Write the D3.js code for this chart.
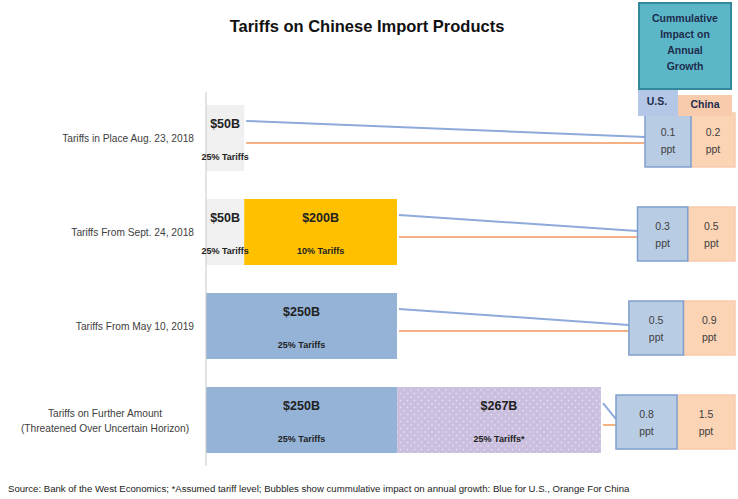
<!DOCTYPE html>
<html>
<head>
<meta charset="utf-8">
<script src="https://cdn.jsdelivr.net/npm/d3@7"></script>
<style>
  body { margin: 0; background: #fff; }
  svg { font-family: "Liberation Sans", Arial, sans-serif; }
</style>
</head>
<body>
<svg id="chart" width="738" height="499"></svg>
<script>
// chart data
var categories = ["Tariffs in Place Aug. 23, 2018", "Tariffs From Sept. 24, 2018",
    "Tariffs From May 10, 2019", "Tariffs on Further Amount|(Threatened Over Uncertain Horizon)"];
var segAmounts = [[50], [50, 200], [250], [250, 267]];
var segRates = [["25% Tariffs"], ["25% Tariffs", "10% Tariffs"], ["25% Tariffs"], ["25% Tariffs", "25% Tariffs*"]];
var segKinds = [["past"], ["past", "new"], ["full"], ["full", "threat"]];
var usImpact = [0.1, 0.3, 0.5, 0.8];
var chinaImpact = [0.2, 0.5, 0.9, 1.5];

var fills = { past: "#f0f0f0", "new": "#ffc000", full: "#95b3d7", threat: "url(#dots)" };
var blueLine = "#8eaadb", orangeLine = "#f4b183";

var svg = d3.select("#chart");

var defs = svg.append("defs");
var pat = defs.append("pattern").attr("id", "dots").attr("patternUnits", "userSpaceOnUse")
    .attr("width", 7).attr("height", 7);
pat.append("rect").attr("width", 7).attr("height", 7).attr("fill", "#cbbfdf");
pat.append("circle").attr("cx", 1.5).attr("cy", 1.5).attr("r", 0.8).attr("fill", "#fff").style("opacity", 0.6);
pat.append("circle").attr("cx", 5).attr("cy", 5).attr("r", 0.8).attr("fill", "#fff").style("opacity", 0.6);

var x = d3.scaleLinear().domain([0, 250]).range([206, 397]);
var y = d3.scaleBand().domain(d3.range(categories.length)).range([92, 466])
    .paddingInner(0.298).paddingOuter(0.138);
var usW = d3.scaleLinear().domain([0.1, 0.8]).range([46, 61]);
var cnW = d3.scaleLinear().domain([0.2, 1.5]).range([44, 58]);
var boxRight = 735, boxH = 54;

// title
svg.append("text").attr("x", 367).attr("y", 32).attr("text-anchor", "middle")
    .attr("font-size", 16.5).attr("font-weight", "bold").attr("fill", "#111")
    .text("Tariffs on Chinese Import Products");

// category labels
categories.forEach(function (c, i) {
    var parts = c.split("|");
    var cy = y(i) + y.bandwidth() / 2;
    if (parts.length == 1) {
        svg.append("text").attr("x", 194).attr("y", cy + 4).attr("text-anchor", "end")
            .attr("font-size", 10.2).attr("fill", "#404040").text(parts[0]);
    } else {
        parts.forEach(function (p, j) {
            svg.append("text").attr("x", 105).attr("y", cy - 3 + j * 15).attr("text-anchor", "middle")
                .attr("font-size", 10.2).attr("fill", "#404040").text(p);
        });
    }
});

// bars
segAmounts.forEach(function (row, i) {
    var start = 0;
    var top = y(i);
    row.forEach(function (v, j) {
        var x0 = x(start), x1 = x(start + v);
        svg.append("rect").attr("x", x0).attr("y", top).attr("width", x1 - x0)
            .attr("height", y.bandwidth()).attr("fill", fills[segKinds[i][j]]);
        start += v;
    });
});

// axis line
svg.append("line").attr("x1", 206).attr("x2", 206).attr("y1", 92).attr("y2", 466)
    .attr("stroke", "#c8c8c8").attr("stroke-width", 1);

// connector lines and impact boxes
usImpact.forEach(function (u, i) {
    var c = chinaImpact[i];
    var total = d3.sum(segAmounts[i]);
    var top = y(i);
    var cy = top + y.bandwidth() / 2 + 2;
    var cx0 = boxRight - cnW(c);
    var ux0 = cx0 - usW(u);
    var endX = x(total) + 2;

    svg.append("line").attr("x1", endX).attr("y1", top + 16).attr("x2", ux0).attr("y2", cy - 3)
        .attr("stroke", blueLine).attr("stroke-width", 2);
    svg.append("line").attr("x1", endX).attr("y1", top + 38).attr("x2", ux0).attr("y2", cy + 3)
        .attr("stroke", orangeLine).attr("stroke-width", 2);

    svg.append("rect").attr("x", cx0).attr("y", cy - boxH / 2).attr("width", cnW(c)).attr("height", boxH)
        .attr("fill", "#fbd4b6").attr("stroke", "#f8cbad").attr("stroke-width", 1.5);
    svg.append("rect").attr("x", ux0).attr("y", cy - boxH / 2).attr("width", usW(u)).attr("height", boxH)
        .attr("fill", "#b8cce4").attr("stroke", "#7f9fcf").attr("stroke-width", 1.5);

    [[ux0 + usW(u) / 2, u], [cx0 + cnW(c) / 2, c]].forEach(function (p) {
        svg.append("text").attr("x", p[0]).attr("y", cy - 4).attr("text-anchor", "middle")
            .attr("font-size", 10.5).attr("fill", "#404040").text(p[1].toFixed(1));
        svg.append("text").attr("x", p[0]).attr("y", cy + 13).attr("text-anchor", "middle")
            .attr("font-size", 10.5).attr("fill", "#404040").text("ppt");
    });
});

// bar labels (on top of lines)
segAmounts.forEach(function (row, i) {
    var start = 0;
    var top = y(i);
    row.forEach(function (v, j) {
        var mid = x(start + v / 2);
        svg.append("text").attr("x", mid).attr("y", top + 23).attr("text-anchor", "middle")
            .attr("font-size", 12.5).attr("font-weight", "bold").attr("fill", "#222").text("$" + v + "B");
        svg.append("text").attr("x", mid).attr("y", top + 55).attr("text-anchor", "middle")
            .attr("font-size", 9).attr("font-weight", "bold").attr("fill", "#222").text(segRates[i][j]);
        start += v;
    });
});

// header
svg.append("rect").attr("x", 639).attr("y", 3).attr("width", 92).attr("height", 86)
    .attr("fill", "#5bb7c8").attr("stroke", "#33899c").attr("stroke-width", 2);
["Cummulative", "Impact on", "Annual", "Growth"].forEach(function (t, k) {
    svg.append("text").attr("x", 685).attr("y", 22 + k * 16).attr("text-anchor", "middle")
        .attr("font-size", 10.5).attr("font-weight", "bold").attr("fill", "#1f2d4d").text(t);
});
svg.append("rect").attr("x", 638).attr("y", 90).attr("width", 40).attr("height", 26).attr("fill", "#b4c7e7");
svg.append("rect").attr("x", 678).attr("y", 95).attr("width", 54).attr("height", 21).attr("fill", "#f8cbad");
svg.append("text").attr("x", 657).attr("y", 105).attr("text-anchor", "middle").attr("font-size", 10.5)
    .attr("font-weight", "bold").attr("fill", "#1f2d4d").text("U.S.");
svg.append("text").attr("x", 705).attr("y", 108).attr("text-anchor", "middle").attr("font-size", 10.5)
    .attr("font-weight", "bold").attr("fill", "#1f2d4d").text("China");

// source
svg.append("text").attr("x", 8).attr("y", 492).attr("font-size", 9.6).attr("fill", "#222")
    .text("Source: Bank of the West Economics; *Assumed tariff level; Bubbles show cummulative impact on annual growth: Blue for U.S., Orange For China");
</script>
</body>
</html>
